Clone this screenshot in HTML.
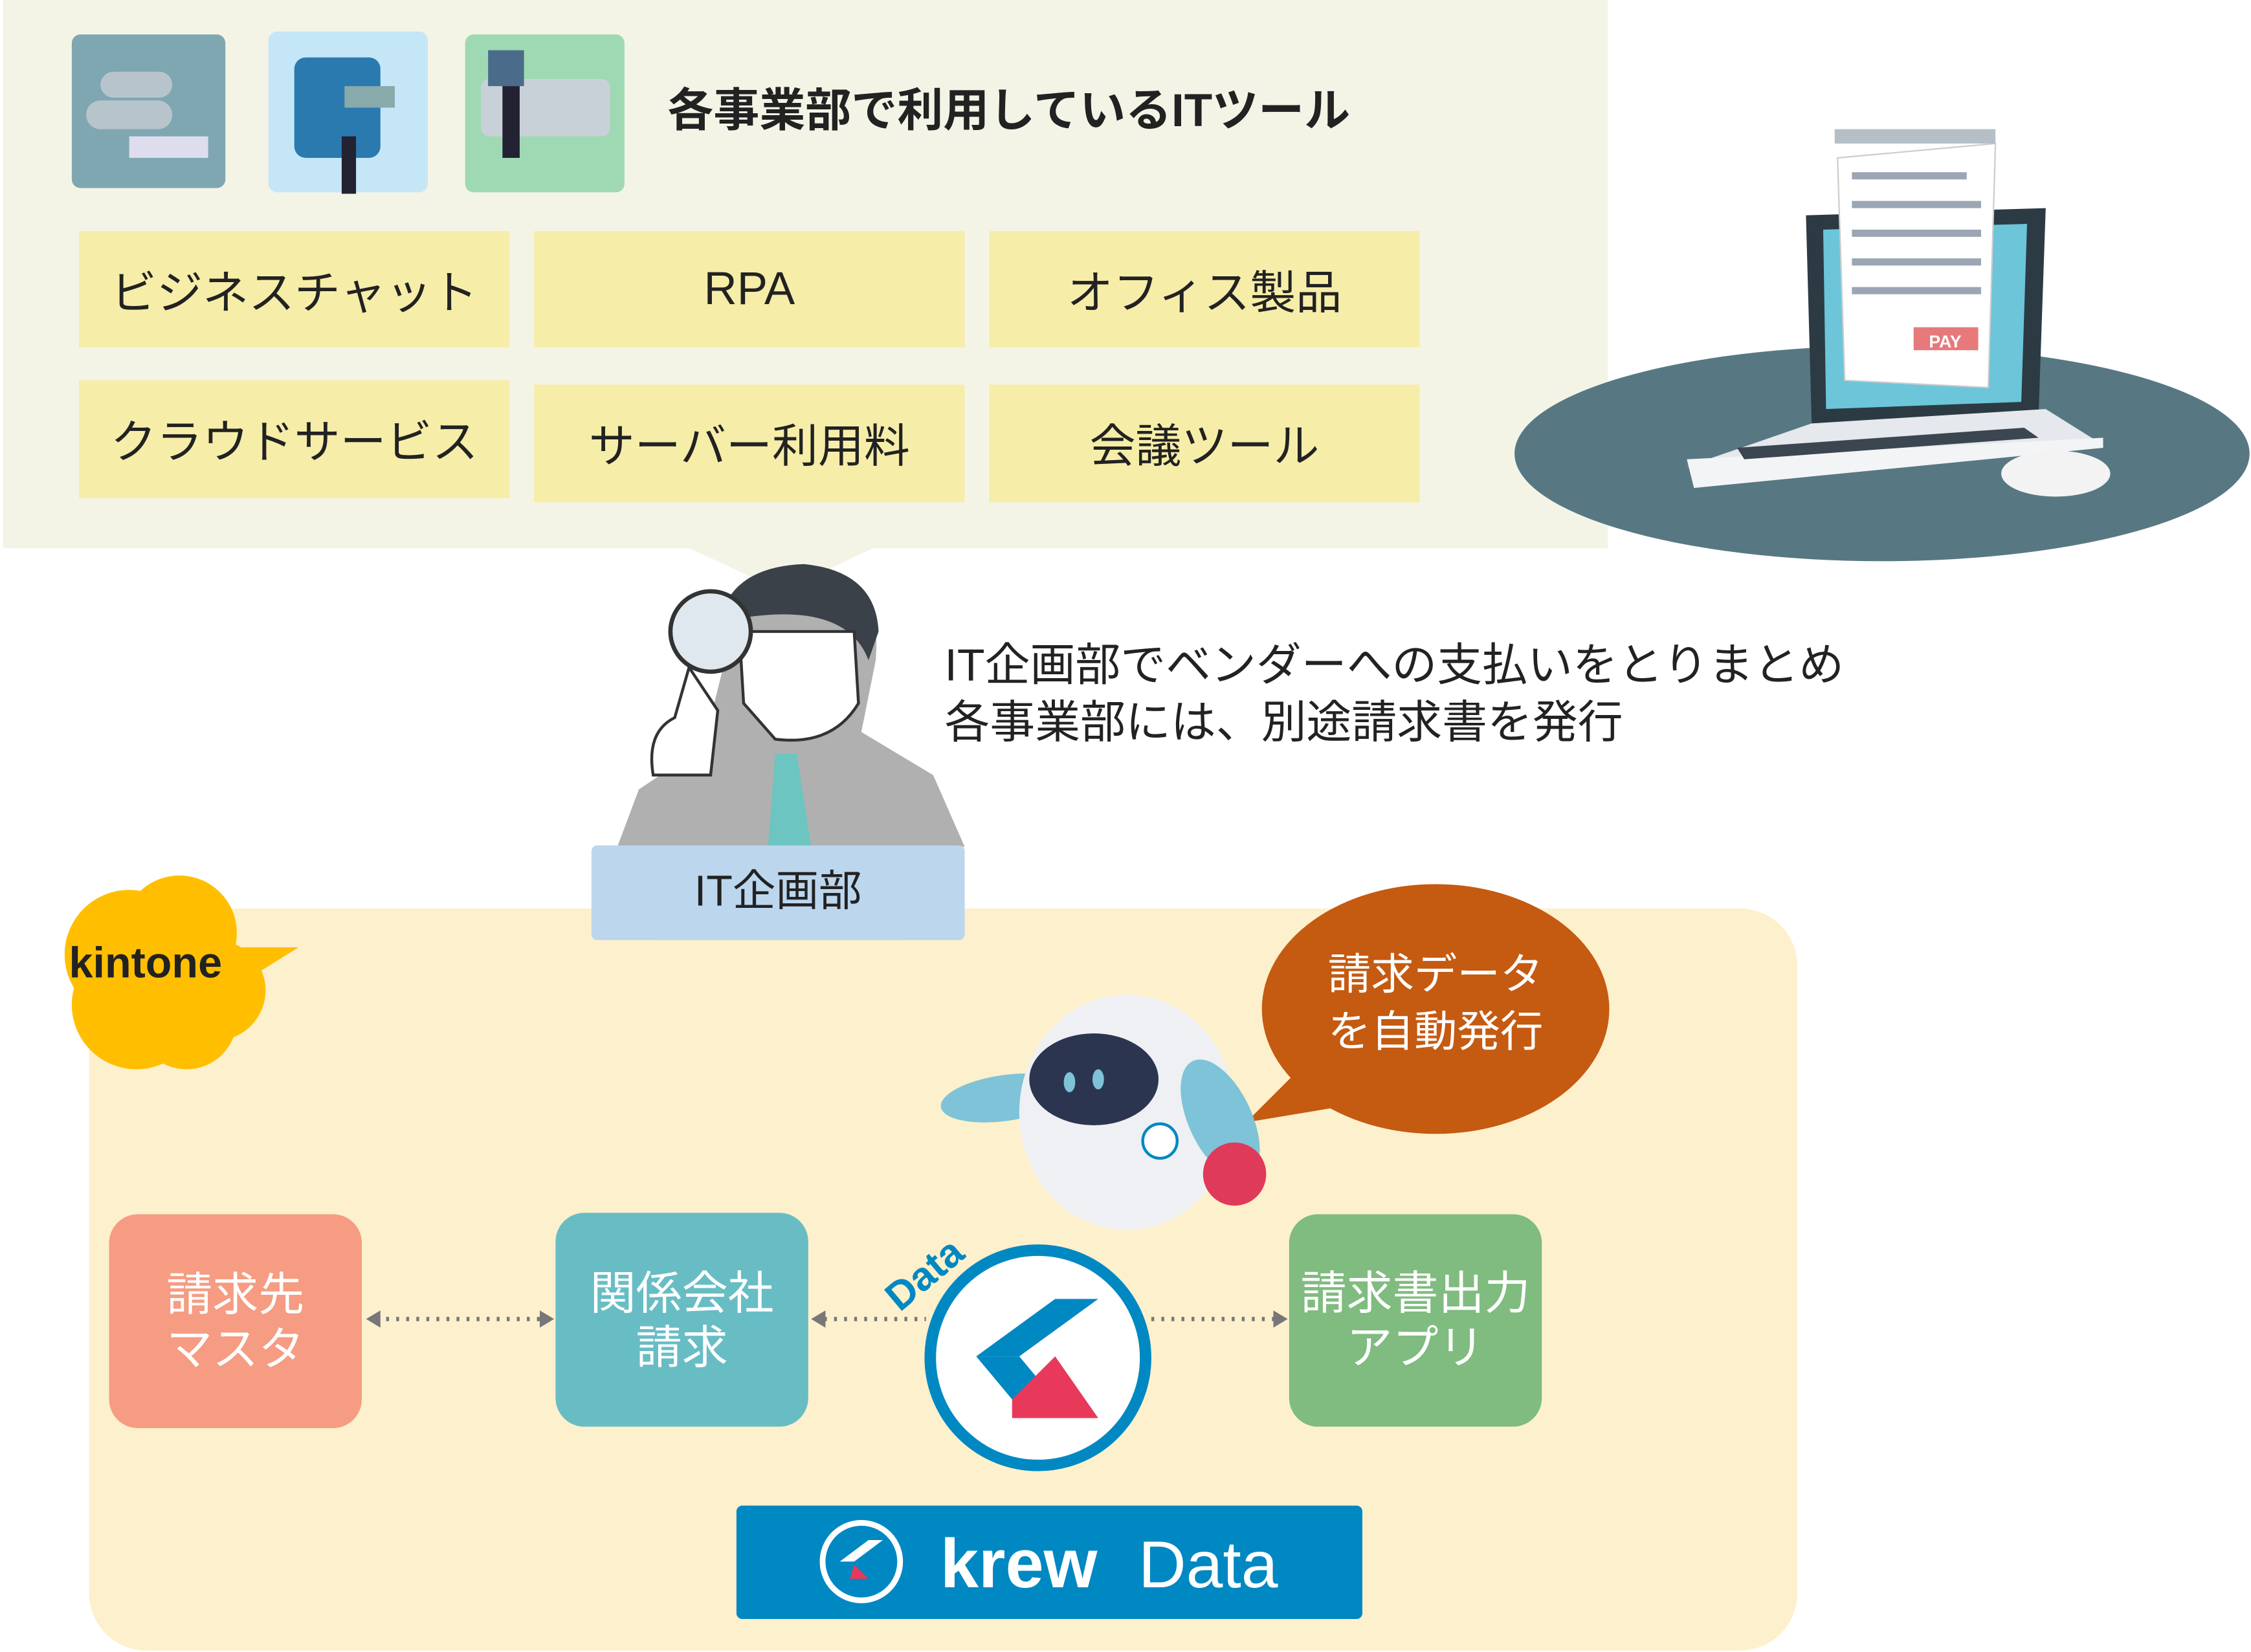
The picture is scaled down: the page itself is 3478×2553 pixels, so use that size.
<!DOCTYPE html>
<html><head><meta charset="utf-8">
<style>
html,body{margin:0;padding:0;background:#fff;width:3478px;height:2552px;overflow:hidden}
#w{position:absolute;left:0;top:0;width:1568px;height:1151px;transform:scale(2.2181);transform-origin:0 0;font-family:"Liberation Sans","Noto Sans CJK JP",sans-serif}
.a{position:absolute}
.y{position:absolute;background:#f6eda9;display:flex;align-items:center;justify-content:center;font-size:32px;color:#222}
.b{position:absolute;border-radius:20px;color:#fff;font-size:32px;line-height:38px;display:flex;align-items:center;justify-content:center;text-align:center}
</style></head><body><div id="w">
<svg class="a" style="left:0;top:0" width="1568" height="1151">
<rect x="2" y="0" width="1118" height="382" fill="#f4f4e6"/>
<polygon points="478,381 610,381 545,412" fill="#f4f4e6"/>
<rect x="50" y="24" width="107" height="107" rx="6" fill="#7fa7b1"/>
<rect x="187" y="22" width="111" height="112" rx="6" fill="#c5e6f6"/>
<rect x="324" y="24" width="111" height="110" rx="6" fill="#9fd9b4"/>
<g fill="#b8c4cc"><rect x="60" y="70" width="60" height="20" rx="10"/><rect x="70" y="50" width="50" height="18" rx="9"/><rect x="90" y="95" width="55" height="15" fill="#dde"/></g>
<rect x="205" y="40" width="60" height="70" rx="8" fill="#2a7ab0"/><rect x="240" y="60" width="35" height="15" fill="#8aa"/><rect x="238" y="95" width="10" height="40" fill="#223"/>
<rect x="335" y="55" width="90" height="40" rx="6" fill="#c9d1d8"/><rect x="340" y="35" width="25" height="25" fill="#4a6c8a"/><rect x="350" y="60" width="12" height="50" fill="#223"/>
<ellipse cx="1311" cy="316" rx="256" ry="75" fill="#577883"/>
<polygon points="1258,150 1425,145 1420,290 1262,295" fill="#2c3a44"/>
<polygon points="1270,160 1412,156 1408,280 1272,285" fill="#6cc5d9"/>
<polygon points="1280,110 1390,100 1385,270 1285,265" fill="#fff" stroke="#ccc"/>
<rect x="1278" y="90" width="112" height="10" fill="#b6bec8"/>
<g fill="#9aa6b3"><rect x="1290" y="120" width="80" height="5"/><rect x="1290" y="140" width="90" height="5"/><rect x="1290" y="160" width="90" height="5"/><rect x="1290" y="180" width="90" height="5"/><rect x="1290" y="200" width="90" height="5"/></g>
<rect x="1333" y="228" width="45" height="16" fill="#e7797a"/><text x="1355" y="242" font-size="12" fill="#fff" text-anchor="middle" font-weight="bold">PAY</text>
<polygon points="1262,295 1425,285 1465,310 1175,325" fill="#e5e8ec"/>
<polygon points="1175,320 1465,305 1465,312 1180,340" fill="#f3f4f6"/>
<polygon points="1210,312 1410,298 1420,305 1215,320" fill="#3c4650"/>
<ellipse cx="1432" cy="330" rx="38" ry="16" fill="#f3f3f3"/>
<rect x="62" y="633" width="1190" height="517" rx="40" fill="#fdf0cc"/>
<g fill="#ffbf00"><circle cx="90" cy="665" r="45"/><circle cx="125" cy="650" r="40"/><circle cx="150" cy="690" r="35"/><circle cx="95" cy="700" r="45"/><circle cx="130" cy="710" r="35"/><polygon points="150,660 208,660 160,690"/></g>
<path d="M430,590 L445,550 L490,520 L510,440 Q520,390 570,395 Q615,405 610,460 L600,510 L650,540 L672,590 Z" fill="#b0b0b0"/>
<path d="M500,440 Q505,395 560,393 Q610,398 612,440 L605,460 Q590,420 520,430 Z" fill="#3a4148"/>
<path d="M515,440 L595,440 L598,490 Q580,520 540,515 L518,490 Z" fill="#fff" stroke="#333" stroke-width="2"/>
<polygon points="540,525 555,525 565,590 535,590" fill="#6cc5c0"/>
<circle cx="495" cy="440" r="28" fill="#dfe8ee" stroke="#333" stroke-width="3"/>
<path d="M480,465 L470,500 Q450,510 455,540 L495,540 L500,495 Z" fill="#fff" stroke="#333" stroke-width="2"/>
<rect x="412" y="589" width="260" height="66" rx="4" fill="#bcd6ee"/>
<ellipse cx="1000" cy="703" rx="121" ry="87" fill="#c55a11"/>
<polygon points="905,745 940,770 868,782" fill="#c55a11"/>
<ellipse cx="700" cy="765" rx="45" ry="16" fill="#7ec3d8" transform="rotate(-8 700 765)"/>
<ellipse cx="785" cy="775" rx="75" ry="82" fill="#eef0f4"/>
<ellipse cx="762" cy="752" rx="45" ry="32" fill="#2c3550"/>
<ellipse cx="745" cy="754" rx="4" ry="7" fill="#7ec3d8"/><ellipse cx="765" cy="752" rx="4" ry="7" fill="#7ec3d8"/>
<ellipse cx="850" cy="780" rx="22" ry="45" fill="#7ec3d8" transform="rotate(-25 850 780)"/>
<circle cx="860" cy="818" r="22" fill="#e03a5a"/>
<circle cx="808" cy="795" r="12" fill="#fff" stroke="#0088c2" stroke-width="2"/>
<g stroke="#777" stroke-width="3" stroke-dasharray="2,5" fill="none"><line x1="262" y1="919" x2="378" y2="919"/><line x1="574" y1="919" x2="645" y2="919"/><line x1="802" y1="919" x2="890" y2="919"/></g>
<g fill="#777"><polygon points="255,919 265,913 265,925"/><polygon points="386,919 376,913 376,925"/><polygon points="565,919 575,913 575,925"/><polygon points="897,919 887,913 887,925"/></g>
<circle cx="723" cy="946" r="75" fill="#fff" stroke="#0088c2" stroke-width="8"/>
<polygon points="680,945 735,905 765,905 710,945" fill="#0088c2"/>
<polygon points="680,945 710,945 735,975 705,975" fill="#0088c2"/>
<polygon points="705,975 735,945 765,988 705,988" fill="#e8395a"/>
<text x="650" y="895" font-size="28" fill="#0088c2" transform="rotate(-40 650 895)" font-weight="bold" text-anchor="middle">Data</text>
<rect x="513" y="1049" width="436" height="79" rx="4" fill="#0088c2"/>
<circle cx="600" cy="1088" r="27" fill="none" stroke="#fff" stroke-width="4"/>
<polygon points="585,1088 605,1073 615,1073 595,1088" fill="#fff"/>
<polygon points="595,1090 605,1100 592,1100" fill="#e8395a"/>
<text x="655" y="1106" font-size="48" font-weight="bold" fill="#fff">krew</text>
<text x="793" y="1106" font-size="46" fill="#fff">Data</text>
</svg>
<div class="a" style="left:465px;top:52px;font-size:32px;font-weight:bold;color:#222">各事業部で利用しているITツール</div>
<div class="y" style="left:55px;top:161px;width:300px;height:81px">ビジネスチャット</div>
<div class="y" style="left:372px;top:161px;width:300px;height:81px">RPA</div>
<div class="y" style="left:689px;top:161px;width:300px;height:81px">オフィス製品</div>
<div class="y" style="left:55px;top:265px;width:300px;height:82px">クラウドサービス</div>
<div class="y" style="left:372px;top:268px;width:300px;height:82px">サーバー利用料</div>
<div class="y" style="left:689px;top:268px;width:300px;height:82px">会議ツール</div>
<div class="a" style="left:658px;top:443px;font-size:31.5px;line-height:40px;color:#222">IT企画部でベンダーへの支払いをとりまとめ<br>各事業部には、別途請求書を発行</div>
<div class="a" style="left:412px;top:596px;width:260px;text-align:center;font-size:30px;color:#222">IT企画部</div>
<div class="a" style="left:48px;top:655px;font-size:30px;font-weight:bold;color:#222">kintone</div>
<div class="a" style="left:880px;top:660px;width:240px;text-align:center;font-size:30px;line-height:40px;color:#fff">請求データ<br>を自動発行</div>
<div class="b" style="left:76px;top:846px;width:176px;height:149px;background:#f59c82">請求先<br>マスタ</div>
<div class="b" style="left:387px;top:845px;width:176px;height:149px;background:#68bdc4">関係会社<br>請求</div>
<div class="b" style="left:898px;top:846px;width:176px;height:148px;background:#80bb80">請求書出力<br>アプリ</div>
</div></body></html>
